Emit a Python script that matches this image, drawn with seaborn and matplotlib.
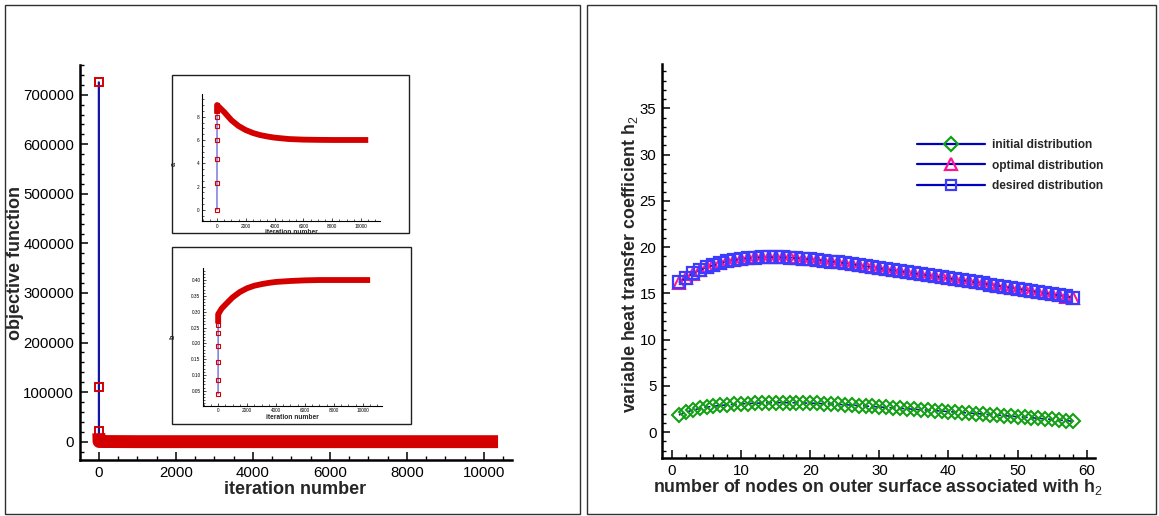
import matplotlib
matplotlib.use("Agg")
import matplotlib.pyplot as plt
import seaborn as sns
from matplotlib.patches import Rectangle
from matplotlib.lines import Line2D
from matplotlib.ticker import MultipleLocator

# ---------------- data ----------------
# main objective-function history
obj_iter = [0, 1, 2, 3, 4, 5, 1000, 2000, 3000, 4000, 5000, 6000, 7000, 8000, 9000, 10000, 10200]
obj_val = [725000, 110000, 22000, 4000, 1000, 300, 0, 0, 0, 0, 0, 0, 0, 0, 0, 0, 0]

# inset a / b parameter histories
par_iter = [0, 1, 2, 3, 4, 5, 6, 7, 8, 250, 500, 1000, 1500, 2000, 2500, 3000, 3500,
            4000, 5000, 6000, 7000, 8000, 9000, 10000, 10300]
a_val = [0.0, 2.27, 4.4, 6.04, 7.22, 8.0, 8.5, 8.8, 9.0, 8.7, 8.4, 7.7, 7.2, 6.85, 6.6,
         6.42, 6.3, 6.2, 6.08, 6.03, 6.01, 6.0, 6.0, 6.0, 6.0]
b_val = [0.04, 0.085, 0.142, 0.193, 0.232, 0.258, 0.272, 0.283, 0.292, 0.31, 0.322, 0.345,
         0.362, 0.374, 0.382, 0.387, 0.391, 0.394, 0.397, 0.399, 0.4, 0.4, 0.4, 0.4, 0.4]

# right panel: h2 distribution along outer-surface nodes
nodes = list(range(1, 59))
initial_h2 = [1.85, 2.15, 2.38, 2.56, 2.70, 2.80, 2.88, 2.95, 3.00, 3.05, 3.09, 3.12, 3.15,
              3.17, 3.18, 3.18, 3.18, 3.17, 3.15, 3.13, 3.10, 3.07, 3.04, 3.00, 2.96, 2.92,
              2.87, 2.82, 2.77, 2.72, 2.67, 2.62, 2.57, 2.52, 2.47, 2.42, 2.37, 2.32, 2.27,
              2.22, 2.16, 2.11, 2.06, 2.00, 1.95, 1.89, 1.84, 1.78, 1.72, 1.67, 1.61, 1.55,
              1.49, 1.43, 1.37, 1.30, 1.24, 1.17]
desired_h2 = [16.20, 16.70, 17.15, 17.50, 17.80, 18.05, 18.25, 18.45, 18.60, 18.70, 18.80,
              18.85, 18.90, 18.90, 18.90, 18.88, 18.85, 18.80, 18.74, 18.67, 18.60, 18.52,
              18.44, 18.35, 18.25, 18.15, 18.04, 17.93, 17.82, 17.70, 17.59, 17.48, 17.38,
              17.27, 17.16, 17.05, 16.95, 16.84, 16.73, 16.62, 16.52, 16.41, 16.30, 16.18,
              16.07, 15.95, 15.83, 15.72, 15.60, 15.48, 15.37, 15.25, 15.13, 15.02, 14.90,
              14.78, 14.67, 14.55]
optimal_h2 = [16.10, 16.65, 17.12, 17.50, 17.82, 18.08, 18.29, 18.48, 18.63, 18.74, 18.83,
              18.89, 18.93, 18.94, 18.93, 18.91, 18.88, 18.83, 18.77, 18.70, 18.62, 18.54,
              18.46, 18.37, 18.27, 18.17, 18.06, 17.95, 17.84, 17.72, 17.61, 17.50, 17.39,
              17.28, 17.17, 17.06, 16.96, 16.85, 16.74, 16.63, 16.53, 16.42, 16.31, 16.19,
              16.08, 15.96, 15.84, 15.73, 15.61, 15.49, 15.38, 15.26, 15.14, 15.03, 14.91,
              14.79, 14.66, 14.45]

legend_labels = ["initial distribution", "optimal distribution", "desired distribution"]

# ---------------- style ----------------
sns.set_theme(style="ticks")
plt.rcParams["font.family"] = ["Liberation Sans", "DejaVu Sans"]
plt.rcParams["mathtext.fontset"] = "custom"
plt.rcParams["mathtext.rm"] = "Liberation Sans"
plt.rcParams["mathtext.bf"] = "Liberation Sans:bold"

RED = "#d40000"
BLUE = "#1414a8"
LBLUE = "#4848d0"
GREEN = "#14a014"
MAGENTA = "#ff1493"
SQBLUE = "#3c3cff"

W, H = 1159, 516
fig = plt.figure(figsize=(W / 100, H / 100), dpi=100)


def fx(px):
    return px / W


def fy(py):
    return 1 - py / H


def axes_px(l, t, r, b):
    return fig.add_axes([fx(l), fy(b), (r - l) / W, (b - t) / H])


def style_axes(ax, lw, maj, minl, tw, fs, pad):
    for s in ["top", "right"]:
        ax.spines[s].set_visible(False)
    for s in ["left", "bottom"]:
        ax.spines[s].set_linewidth(lw)
        ax.spines[s].set_color("black")
    ax.tick_params(which="both", direction="in", top=False, right=False,
                   bottom=True, left=True, colors="black")
    ax.tick_params(which="major", length=maj, width=tw, labelsize=fs, pad=pad)
    ax.tick_params(which="minor", length=minl, width=tw * 0.9)
    ax.set_facecolor("none")
    ax.grid(False)


# panel borders
fig.patches.append(Rectangle((fx(5), fy(514)), (580 - 5) / W, (514 - 5) / H,
                             transform=fig.transFigure, fill=False, ec="#303030", lw=1))
fig.patches.append(Rectangle((fx(587), fy(514)), (1156 - 587) / W, (514 - 5) / H,
                             transform=fig.transFigure, fill=False, ec="#303030", lw=1))
# inset borders
fig.patches.append(Rectangle((fx(172), fy(233)), (409 - 172) / W, (233 - 75) / H,
                             transform=fig.transFigure, fill=False, ec="#202020", lw=1))
fig.patches.append(Rectangle((fx(172), fy(424)), (411 - 172) / W, (424 - 247) / H,
                             transform=fig.transFigure, fill=False, ec="#202020", lw=1))

# ---------------- left main ----------------
ax = axes_px(80, 65, 512, 460)
sns.lineplot(x=obj_iter, y=obj_val, ax=ax, estimator=None, sort=False, color=BLUE, lw=1.6,
             marker="s", markevery=[0, 1, 2], markersize=5.8, markerfacecolor="none",
             markeredgecolor=RED, markeredgewidth=1.4, zorder=2)
sns.lineplot(x=obj_iter[3:], y=obj_val[3:], ax=ax, estimator=None, sort=False, color=RED,
             lw=9.3, solid_capstyle="projecting", zorder=3)
ax.set_xlim(-490, 10730)
ax.set_ylim(-37000, 760000)
ax.xaxis.set_major_locator(MultipleLocator(2000))
ax.xaxis.set_minor_locator(MultipleLocator(500))
ax.yaxis.set_major_locator(MultipleLocator(100000))
ax.yaxis.set_minor_locator(MultipleLocator(20000))
style_axes(ax, 1.8, 5.8, 2.9, 1.1, 10.8, 4.3)
ax.set_xlabel("iteration number", fontsize=13, fontweight="bold")
ax.set_ylabel("objective function", fontsize=13, fontweight="bold")
ax.xaxis.set_label_coords(0.498, -0.085)
ax.xaxis.label.set_va("baseline")
ax.yaxis.set_label_coords(-0.150, 0.4975)
ax.yaxis.label.set_va("center")


def inset(l, t, r, b, vals, ylim, ymaj, ymin, ylabel):
    ia = axes_px(l, t, r, b)
    sns.lineplot(x=par_iter, y=vals, ax=ia, estimator=None, sort=False, color=LBLUE, lw=0.8,
                 marker="s", markevery=list(range(9)), markersize=3.3,
                 markerfacecolor="none", markeredgecolor=RED, markeredgewidth=0.8, zorder=2)
    sns.lineplot(x=par_iter[6:], y=vals[6:], ax=ia, estimator=None, sort=False, color=RED,
                 lw=4.2, solid_capstyle="projecting", zorder=3)
    ia.set_xlim(-1040, 11320)
    ia.set_ylim(*ylim)
    ia.xaxis.set_major_locator(MultipleLocator(2000))
    ia.xaxis.set_minor_locator(MultipleLocator(500))
    ia.yaxis.set_major_locator(MultipleLocator(ymaj))
    ia.yaxis.set_minor_locator(MultipleLocator(ymin))
    style_axes(ia, 0.8, 2.2, 1.1, 0.5, 3.4, 1.8)
    ia.set_xlabel("iteration number", fontsize=4.8, fontweight="bold", labelpad=0.5)
    ia.set_ylabel(ylabel, fontsize=5.2, fontweight="bold")
    return ia


ia = inset(202, 94, 380, 221, a_val, (-0.96, 9.95), 2, 0.5, "a")
ib = inset(203, 268, 382, 406, b_val, (0.002, 0.438), 0.05, 0.01, "b")
ia.yaxis.set_label_coords(-0.135, 0.45)
ib.yaxis.set_label_coords(-0.15, 0.5)

# ---------------- right panel ----------------
ax2 = axes_px(662, 64, 1095, 458)
sns.lineplot(x=nodes, y=initial_h2, ax=ax2, estimator=None, sort=False, color=BLUE, lw=1.2,
             linestyle="--", marker="D", markersize=6.9, markerfacecolor="none",
             markeredgecolor=GREEN, markeredgewidth=1.5, zorder=2)
sns.lineplot(x=nodes, y=optimal_h2, ax=ax2, estimator=None, sort=False, color=BLUE, lw=1.2,
             linestyle="--", marker="^", markersize=8.6, markerfacecolor="none",
             markeredgecolor=MAGENTA, markeredgewidth=1.5, zorder=2)
sns.lineplot(x=nodes, y=desired_h2, ax=ax2, estimator=None, sort=False, color=BLUE, lw=1.2,
             linestyle=":", marker="s", markersize=8.6, markerfacecolor="none",
             markeredgecolor=SQBLUE, markeredgewidth=1.6, zorder=3)
ax2.set_xlim(-1.45, 61.2)
ax2.set_ylim(-2.8, 39.8)
ax2.xaxis.set_major_locator(MultipleLocator(10))
ax2.xaxis.set_minor_locator(MultipleLocator(2))
ax2.yaxis.set_major_locator(MultipleLocator(5))
ax2.yaxis.set_minor_locator(MultipleLocator(1))
style_axes(ax2, 1.8, 5.8, 2.9, 1.1, 10.8, 4.0)
ax2.set_xlabel(r"number of nodes on outer surface associated with h$_{\mathrm{2}}$",
               fontsize=12.8, fontweight="bold")
ax2.set_ylabel(r"variable heat transfer coefficient h$_{\mathrm{2}}$",
               fontsize=12.8, fontweight="bold")
ax2.xaxis.set_label_coords(0.4977, -0.087)
ax2.xaxis.label.set_va("baseline")
ax2.yaxis.set_label_coords(-0.074, 0.491)
ax2.yaxis.label.set_va("center")

handles = [
    Line2D([], [], color="#0000c0", lw=1.6, marker="D", markersize=7.6, markerfacecolor="none",
           markeredgecolor=GREEN, markeredgewidth=1.6),
    Line2D([], [], color="#0000c0", lw=1.6, marker="^", markersize=9.0, markerfacecolor="none",
           markeredgecolor=MAGENTA, markeredgewidth=1.6),
    Line2D([], [], color="#0000c0", lw=1.6, marker="s", markersize=7.8, markerfacecolor="none",
           markeredgecolor=SQBLUE, markeredgewidth=1.6),
]
fig.legend(handles, legend_labels, loc="upper left", bbox_to_anchor=(fx(917), fy(139)),
           bbox_transform=fig.transFigure, frameon=False, borderpad=0, borderaxespad=0,
           handlelength=5.7, handletextpad=0.6, labelspacing=0.72,
           prop={"family": "Liberation Sans", "weight": "bold", "size": 8.6})

fig.savefig("out.png", dpi=100)
